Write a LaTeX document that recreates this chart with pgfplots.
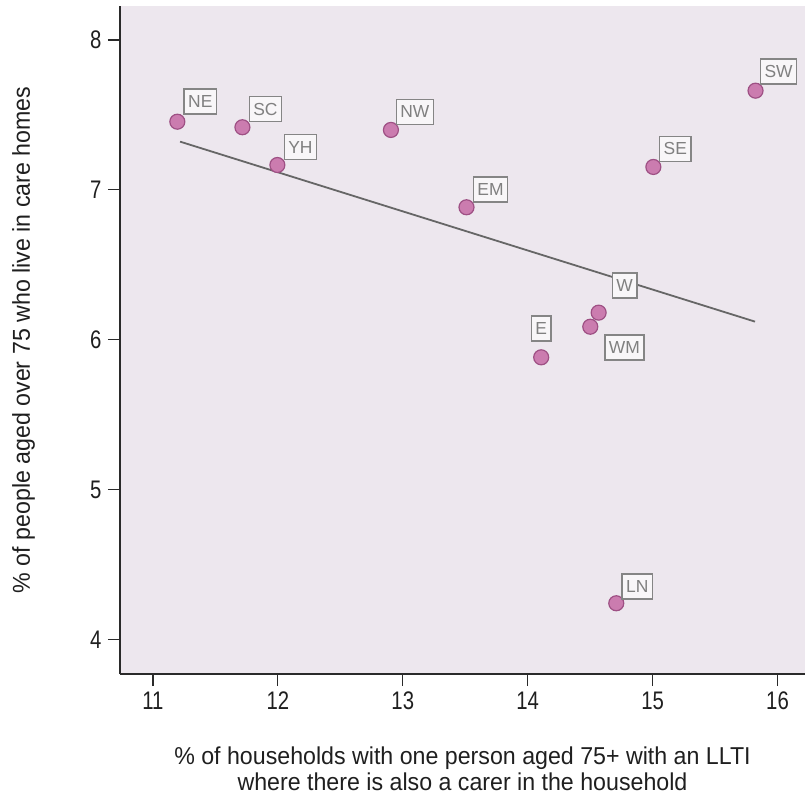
\documentclass[border=0pt]{standalone}
\usepackage{pgfplots}
\pgfplotsset{compat=1.18}
\usepackage{pgfplotstable}
\usepackage{fontspec}
\setmainfont{Liberation Sans}
\newfontfamily\tickfont{Liberation Sans}[FakeStretch=0.8]
\newfontfamily\labfont{Liberation Sans}[FakeStretch=0.95]
\definecolor{bgcol}{HTML}{EDE7EE}
\definecolor{dotfill}{HTML}{CB7CAF}
\definecolor{dotedge}{HTML}{9E5084}
\definecolor{boxedge}{HTML}{858585}
\definecolor{boxfill}{HTML}{F8F6F8}
\definecolor{boxtext}{HTML}{808080}
\definecolor{axcol}{HTML}{2A2A2A}

\pgfplotstableread{
x      y     label dx  dy
11.195 7.455 NE    23  20
11.716 7.418 SC    23  18
11.996 7.166 YH    23  18
12.905 7.400 NW    24  18
13.510 6.884 EM    24  18
15.006 7.153 SE    22  18
15.824 7.662 SW    23  19
14.568 6.181 W     26  27
14.501 6.087 WM    34  -21
14.108 5.883 E     0   29
14.709 4.242 LN    21  17
}\regions

\begin{document}
\begin{tikzpicture}
\begin{axis}[
  name=ax,
  width=685bp, height=668bp, scale only axis,
  xmin=10.736, xmax=16.22, ymin=3.77, ymax=8.227,
  axis x line*=bottom, axis y line*=left,
  xtick={11,12,13,14,15,16}, ytick={4,5,6,7,8},
  tick align=outside, major tick length=12bp,
  axis background/.style={fill=bgcol},
  axis line style={line width=1.4bp, color=axcol},
  tick style={line width=1.2bp, color=axcol},
  /pgf/number format/assume math mode=true,
  ticklabel style={font=\tickfont\fontsize{25.5}{26}\selectfont, text=black!88},
  xticklabel style={yshift=-2bp},
  yticklabel style={xshift=-3bp},
  clip=false,
]
\addplot[line width=1.8bp, color=black!60] coordinates {(11.217,7.322) (15.82,6.121)};
\addplot[only marks, mark=*, mark size=7.5bp,
  mark options={fill=dotfill, draw=dotedge, line width=1.2bp},
  point meta=explicit symbolic,
  visualization depends on={\thisrow{dx}\as\dx},
  visualization depends on={\thisrow{dy}\as\dy},
  nodes near coords,
  nodes near coords style={anchor=center, xshift=\dx*1bp, yshift=\dy*1bp,
    draw=boxedge, line width=1.5bp, fill=boxfill, text=boxtext,
    font=\fontsize{17.5}{17.5}\selectfont, inner xsep=4bp, inner ysep=0bp,
    minimum height=25bp},
] table[x=x, y=y, meta=label] {\regions};
\end{axis}
\node[rotate=90, anchor=base, font=\labfont\fontsize{24.5}{26}\selectfont, text=black!88]
  at ([xshift=-90bp]ax.west) {\% of people aged over 75 who live in care homes};
\node[anchor=base, align=center, font=\labfont\fontsize{24.5}{26}\selectfont, text=black!88]
  at ([yshift=-116bp]ax.south) {\% of households with one person aged 75+ with an LLTI\\where there is also a carer in the household};
\pgfresetboundingbox
\path[use as bounding box] ([xshift=-120bp,yshift=-120bp]ax.south west) rectangle ([yshift=6bp]ax.north east);
\end{tikzpicture}
\end{document}
